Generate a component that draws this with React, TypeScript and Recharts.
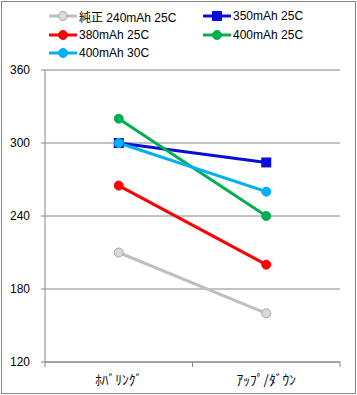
import { LineChart, Line, XAxis, YAxis, CartesianGrid } from "recharts";

const categories = ["ﾎﾊﾞﾘﾝｸﾞ", "ｱｯﾌﾟ/ﾀﾞｳﾝ"];
const genuine240 = [210, 160];
const mah350c25 = [300, 284];
const mah380c25 = [265, 200];
const mah400c25 = [320, 240];
const mah400c30 = [300, 260];
const yTicks = [120, 180, 240, 300, 360];

const series = [
    { key: "g240", name: "純正 240mAh 25C", values: genuine240, color: "#bfbfbf", fill: "#d9d9d9", dotStroke: "#a6a6a6", square: false },
    { key: "m350", name: "350mAh 25C", values: mah350c25, color: "#0c0cd8", fill: "#0c0cd8", dotStroke: "#0c0cd8", square: true },
    { key: "m380", name: "380mAh 25C", values: mah380c25, color: "#ff0000", fill: "#ff0000", dotStroke: "#ff0000", square: false },
    { key: "m400", name: "400mAh 25C", values: mah400c25, color: "#00b050", fill: "#00b050", dotStroke: "#00b050", square: false },
    { key: "m400b", name: "400mAh 30C", values: mah400c30, color: "#00b0f0", fill: "#00b0f0", dotStroke: "#00b0f0", square: false },
];

const data = categories.map((name, i) => {
    const row: Record<string, number | string> = { x: i + 0.5, name };
    series.forEach((s) => {
        row[s.key] = s.values[i];
    });
    return row;
});

const font = "'Liberation Sans', 'Noto Sans CJK JP', sans-serif";
const W = 357;
const H = 395;
const M = { top: 70, right: 17, left: 0, bottom: 0 };
const Y_W = 45;
// half of one category band, for the boundary tick marks
const halfBand = (W - M.right - M.left - Y_W) / categories.length / 2;

const makeDot = (s: typeof series[number]) => (props: any) => {
    const { cx, cy, index } = props;
    if (s.square) {
        return <rect key={index} x={cx - 5} y={cy - 5} width={10} height={10} fill={s.fill} />;
    }
    return <circle key={index} cx={cx} cy={cy} r={4.5} fill={s.fill} stroke={s.dotStroke} strokeWidth={1} />;
};

const CatTick = (props: any) => {
    const { x, y, index, payload } = props;
    const label = categories[Math.floor(payload.value)];
    return (
        <g>
            <line x1={x - halfBand} y1={y} x2={x - halfBand} y2={y + 5} stroke="#868686" />
            {index === categories.length - 1 && (
                <line x1={x + halfBand} y1={y} x2={x + halfBand} y2={y + 5} stroke="#868686" />
            )}
            <text x={x} y={y + 23} textAnchor="middle" fill="#000" fontSize={13.5} fontFamily="'Noto Sans CJK JP', sans-serif">
                {label}
            </text>
        </g>
    );
};

const legendPos = [
    { left: 49, top: 7 },
    { left: 203, top: 7 },
    { left: 49, top: 26 },
    { left: 203, top: 26 },
    { left: 49, top: 44 },
];

const LegendBox = () => (
    <>
        {series.map((s, i) => (
            <div
                key={s.key}
                style={{
                    position: "absolute",
                    left: legendPos[i].left,
                    top: legendPos[i].top,
                    display: "flex",
                    alignItems: "center",
                    fontFamily: font,
                    fontSize: 12,
                    color: "#000",
                    whiteSpace: "nowrap",
                    height: 18,
                }}
            >
                <svg width={29} height={18}>
                    <line x1={0} y1={9} x2={28} y2={9} stroke={s.color} strokeWidth={3} />
                    {s.square ? (
                        <rect x={9} y={4} width={10} height={10} fill={s.fill} />
                    ) : (
                        <circle cx={14} cy={9} r={4.5} fill={s.fill} stroke={s.dotStroke} />
                    )}
                </svg>
                <span style={{ marginLeft: 1 }}>{s.name}</span>
            </div>
        ))}
    </>
);

export default function App() {
    return (
        <div style={{ position: "absolute", left: 0, top: 0, width: W, height: H, background: "#fff" }}>
            <div
                style={{
                    position: "absolute",
                    left: 1,
                    top: 1,
                    width: 353,
                    height: 391,
                    border: "1px solid #868686",
                }}
            />
            <LegendBox />
            <div style={{ position: "absolute", left: 0, top: 0 }}>
                <LineChart width={W} height={H} data={data} margin={M}>
                    <CartesianGrid vertical={false} stroke="#868686" />
                    <XAxis
                        dataKey="x"
                        type="number"
                        domain={[0, categories.length]}
                        ticks={categories.map((_, i) => i + 0.5)}
                        stroke="#868686"
                        tickLine={false}
                        tickSize={0}
                        tickMargin={0}
                        height={33}
                        tick={<CatTick />}
                    />
                    <YAxis
                        domain={[120, 360]}
                        ticks={yTicks}
                        width={Y_W}
                        tickSize={4}
                        tickMargin={11}
                        stroke="#868686"
                        tick={{ fill: "#000", fontSize: 12, fontFamily: font }}
                    />
                    {series.map((s) => (
                        <Line
                            key={s.key}
                            dataKey={s.key}
                            name={s.name}
                            type="linear"
                            stroke={s.color}
                            strokeWidth={3}
                            dot={makeDot(s)}
                            activeDot={false}
                            isAnimationActive={false}
                        />
                    ))}
                </LineChart>
            </div>
        </div>
    );
}
